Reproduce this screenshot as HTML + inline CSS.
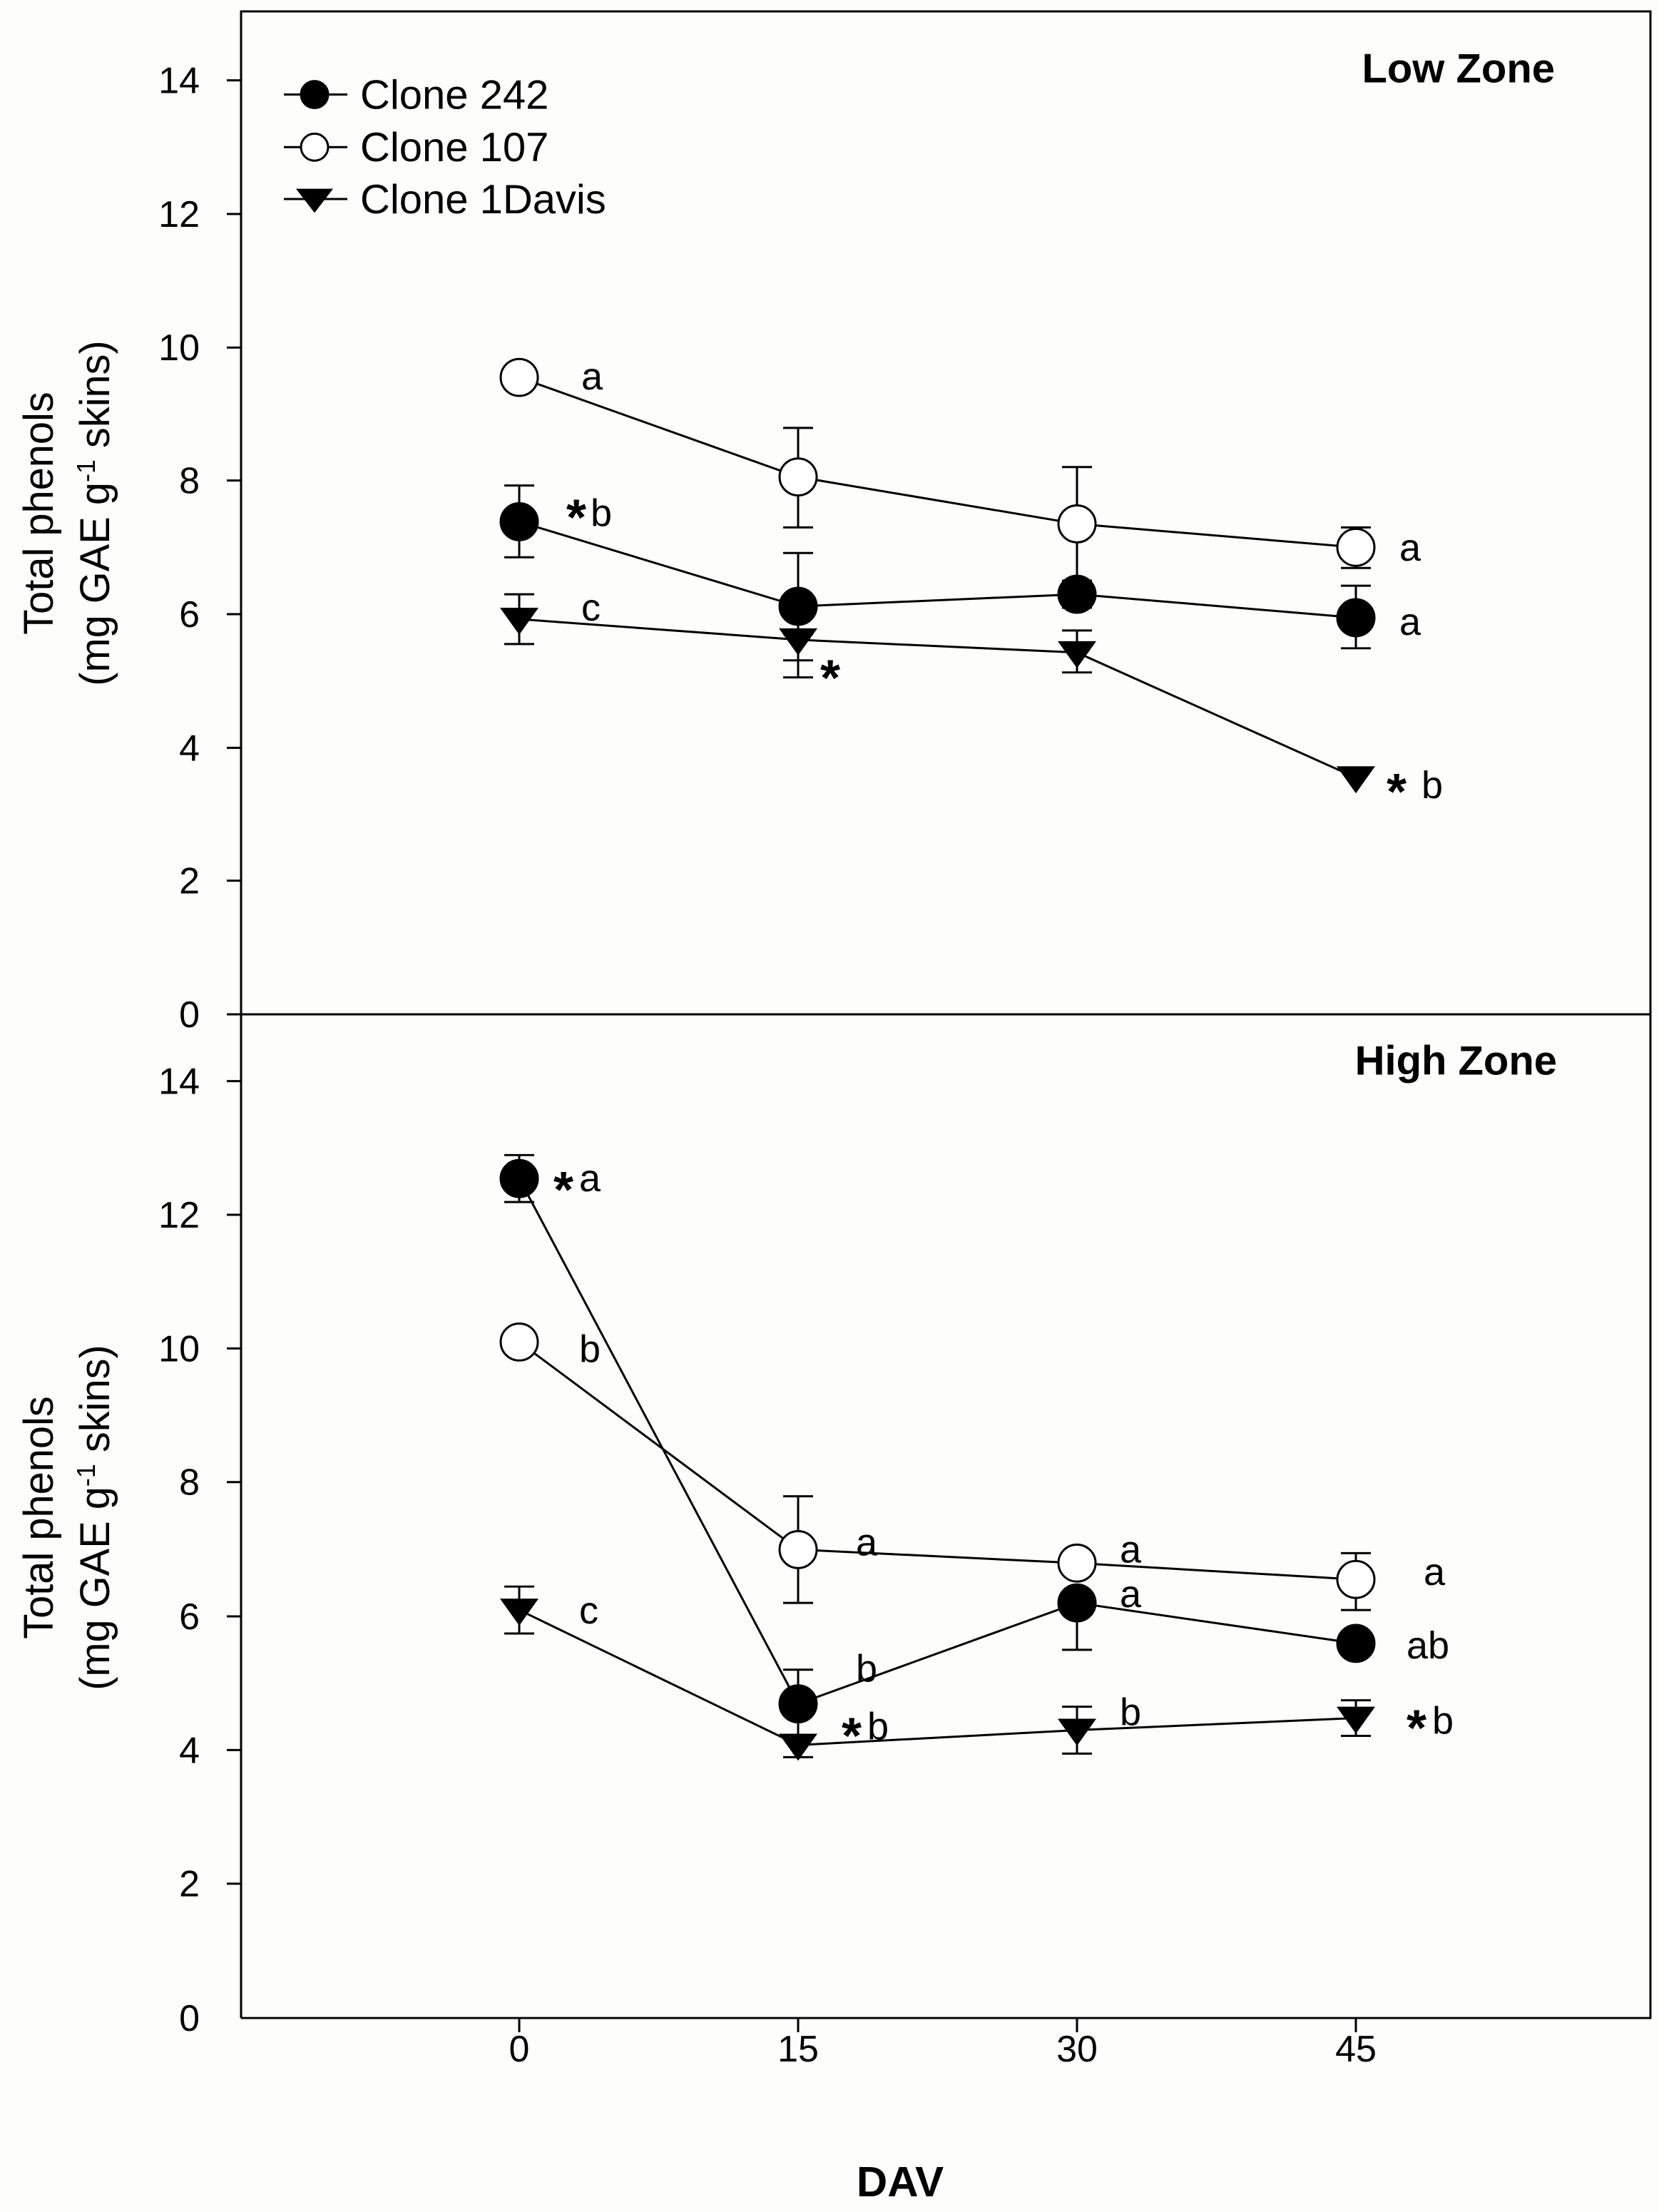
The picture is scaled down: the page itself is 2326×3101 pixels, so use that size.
<!DOCTYPE html>
<html><head><meta charset="utf-8"><style>html,body{margin:0;padding:0;background:#fff}svg{display:block}text{font-family:"Liberation Sans",Arial,sans-serif;fill:#000}</style></head>
<body>
<svg width="2326" height="3101" viewBox="0 0 2326 3101" xmlns="http://www.w3.org/2000/svg">
<rect width="2326" height="3101" fill="#fdfdfc"/>
<g transform="scale(1,0.9965)">
<g stroke="#000" stroke-width="3" fill="none">
<polyline points="338,2839 338,16 2314,16 2314,2839 338,2839"/>
<line x1="318" y1="1427" x2="2314" y2="1427"/>
</g>
<g stroke="#000" stroke-width="3">
<line x1="318" x2="338" y1="113" y2="113"/><line x1="318" x2="338" y1="301" y2="301"/><line x1="318" x2="338" y1="489" y2="489"/><line x1="318" x2="338" y1="676" y2="676"/><line x1="318" x2="338" y1="864" y2="864"/><line x1="318" x2="338" y1="1052" y2="1052"/><line x1="318" x2="338" y1="1239" y2="1239"/>
<line x1="318" x2="338" y1="1521" y2="1521"/><line x1="318" x2="338" y1="1709" y2="1709"/><line x1="318" x2="338" y1="1897" y2="1897"/><line x1="318" x2="338" y1="2085" y2="2085"/><line x1="318" x2="338" y1="2274" y2="2274"/><line x1="318" x2="338" y1="2462" y2="2462"/><line x1="318" x2="338" y1="2650" y2="2650"/>
<line x1="728" x2="728" y1="2839" y2="2859"/><line x1="1119" x2="1119" y1="2839" y2="2859"/><line x1="1510" x2="1510" y1="2839" y2="2859"/><line x1="1901" x2="1901" y1="2839" y2="2859"/>
</g>
<g font-size="52" text-anchor="end">
<text x="280" y="131">14</text><text x="280" y="319">12</text><text x="280" y="507">10</text><text x="280" y="694">8</text><text x="280" y="882">6</text><text x="280" y="1070">4</text><text x="280" y="1257">2</text><text x="280" y="1445">0</text>
<text x="280" y="1539">14</text><text x="280" y="1727">12</text><text x="280" y="1915">10</text><text x="280" y="2103">8</text><text x="280" y="2292">6</text><text x="280" y="2480">4</text><text x="280" y="2668">2</text><text x="280" y="2857">0</text>
</g>
<g font-size="52" text-anchor="middle">
<text x="728" y="2900">0</text><text x="1119" y="2900">15</text><text x="1510" y="2900">30</text><text x="1901" y="2900">45</text>
<text x="1262" y="3090" font-size="60" font-weight="bold">DAV</text>
</g>
<g font-size="58" text-anchor="middle">
<text transform="translate(74,722) rotate(-90)">Total phenols</text>
<text transform="translate(153,722) rotate(-90)">(mg GAE g<tspan font-size="36" dy="-20">-1</tspan><tspan dy="20"> skins)</tspan></text>
<text transform="translate(74,2135) rotate(-90)">Total phenols</text>
<text transform="translate(153,2135) rotate(-90)">(mg GAE g<tspan font-size="36" dy="-20">-1</tspan><tspan dy="20"> skins)</tspan></text>
</g>
<g font-size="58" font-weight="bold" text-anchor="end">
<text x="2180" y="116">Low Zone</text><text x="2183" y="1512">High Zone</text>
</g>
<g stroke="#000" stroke-width="3">
<line x1="398" x2="487" y1="133" y2="133"/><line x1="398" x2="487" y1="207" y2="207"/><line x1="398" x2="487" y1="280" y2="280"/>
<circle cx="441" cy="133" r="19" fill="#000"/><circle cx="441" cy="207" r="19" fill="#fff"/>
<polygon points="418,267 464,267 441,297" fill="#000"/>
</g>
<g font-size="58"><text x="505" y="153">Clone 242</text><text x="505" y="227">Clone 107</text><text x="505" y="300">Clone 1Davis</text></g>
<g stroke="#000" stroke-width="3" fill="none">
<polyline points="728,531 1119,671 1510,737 1901,770"/>
<polyline points="728,734 1119,853 1510,836 1901,869"/>
<polyline points="728,871 1119,900 1510,918 1901,1094"/>
<path d="M1119,602V742M1098,602h42M1098,742h42"/>
<path d="M1510,657V817M1489,657h42M1489,817h42"/>
<path d="M1901,742V799M1880,742h42M1880,799h42"/>
<path d="M728,683V784M707,683h42M707,784h42"/>
<path d="M1119,778V929M1098,778h42M1098,929h42"/>
<path d="M1510,817V855M1489,817h42M1489,855h42"/>
<path d="M1901,824V912M1880,824h42M1880,912h42"/>
<path d="M728,836V906M707,836h42M707,906h42"/>
<path d="M1119,892V953M1098,892h42M1098,953h42"/>
<path d="M1510,887V946M1489,887h42M1489,946h42"/>
</g>
<g stroke="#000" stroke-width="3">
<circle cx="728" cy="531" r="26" fill="#fff"/><circle cx="1119" cy="671" r="26" fill="#fff"/><circle cx="1510" cy="737" r="26" fill="#fff"/><circle cx="1901" cy="770" r="26" fill="#fff"/>
<circle cx="728" cy="734" r="26" fill="#000"/><circle cx="1119" cy="853" r="26" fill="#000"/><circle cx="1510" cy="836" r="26" fill="#000"/><circle cx="1901" cy="869" r="26" fill="#000"/>
</g>
<g fill="#000"><polygon points="701,855 755,855 728,893"/><polygon points="1092,884 1146,884 1119,922"/><polygon points="1483,902 1537,902 1510,940"/><polygon points="1874,1078 1928,1078 1901,1116"/></g>
<g font-size="54">
<text x="815" y="548">a</text><text x="794" y="752" font-size="72" font-weight="bold">*</text><text x="828" y="740">b</text><text x="815" y="873">c</text>
<text x="1150" y="978" font-size="72" font-weight="bold">*</text>
<text x="1962" y="789">a</text><text x="1962" y="893">a</text>
<text x="1944" y="1138" font-size="72" font-weight="bold">*</text><text x="1993" y="1123">b</text>
</g>
<g stroke="#000" stroke-width="3" fill="none">
<polyline points="728,1658 1119,2397 1510,2255 1901,2312"/>
<polyline points="728,1888 1119,2180 1510,2199 1901,2222"/>
<polyline points="728,2265 1119,2455 1510,2434 1901,2417"/>
<path d="M728,1625V1691M707,1625h42M707,1691h42"/>
<path d="M1119,2349V2430M1098,2349h42"/>
<path d="M1510,2321V2255M1489,2321h42"/>
<path d="M1119,2105V2255M1098,2105h42M1098,2255h42"/>
<path d="M1901,2185V2265M1880,2185h42M1880,2265h42"/>
<path d="M728,2232V2298M707,2232h42M707,2298h42"/>
<path d="M1510,2401V2467M1489,2401h42M1489,2467h42"/>
<path d="M1901,2392V2442M1880,2392h42M1880,2442h42"/>
<path d="M1119,2430V2472M1098,2472h42"/>
</g>
<g stroke="#000" stroke-width="3">
<circle cx="728" cy="1888" r="26" fill="#fff"/><circle cx="1119" cy="2180" r="26" fill="#fff"/><circle cx="1510" cy="2199" r="26" fill="#fff"/><circle cx="1901" cy="2222" r="26" fill="#fff"/>
<circle cx="728" cy="1658" r="26" fill="#000"/><circle cx="1119" cy="2397" r="26" fill="#000"/><circle cx="1510" cy="2255" r="26" fill="#000"/><circle cx="1901" cy="2312" r="26" fill="#000"/>
</g>
<g fill="#000"><polygon points="701,2249 755,2249 728,2287"/><polygon points="1092,2439 1146,2439 1119,2477"/><polygon points="1483,2418 1537,2418 1510,2456"/><polygon points="1874,2401 1928,2401 1901,2439"/></g>
<g font-size="54">
<text x="776" y="1698" font-size="72" font-weight="bold">*</text><text x="812" y="1676">a</text>
<text x="812" y="1916">b</text><text x="812" y="2284">c</text>
<text x="1200" y="2188">a</text><text x="1200" y="2366">b</text>
<text x="1180" y="2466" font-size="72" font-weight="bold">*</text><text x="1216" y="2447">b</text>
<text x="1570" y="2198">a</text><text x="1570" y="2261">a</text><text x="1570" y="2427">b</text>
<text x="1996" y="2230">a</text><text x="1972" y="2333">ab</text>
<text x="1972" y="2455" font-size="72" font-weight="bold">*</text><text x="2008" y="2439">b</text>
</g>
</g>
</svg>
</body></html>
